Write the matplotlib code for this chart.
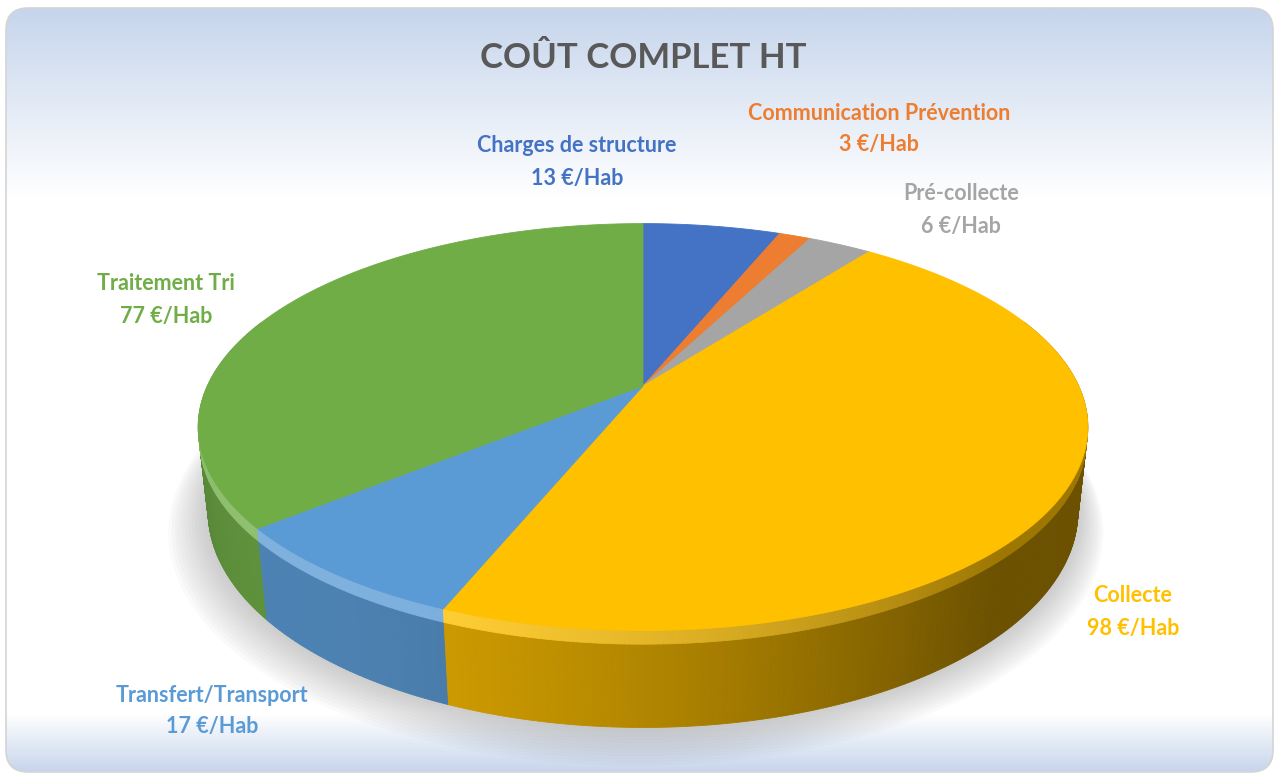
import numpy as np
import matplotlib
matplotlib.use("Agg")
import matplotlib.pyplot as plt
from matplotlib.patches import Polygon, FancyBboxPatch
from matplotlib.colors import to_rgb

# --------------------------------------------------------------------------- #
# Data
# --------------------------------------------------------------------------- #
categories = ["Charges de structure", "Communication Prévention", "Pré-collecte",
              "Collecte", "Transfert/Transport", "Traitement Tri"]
values = [13, 3, 6, 98, 17, 77]
unit = "€/Hab"
title = "COÛT COMPLET HT"

colors = ["#4472C4", "#ED7D31", "#A5A5A5", "#FFC000", "#5B9BD5", "#70AD47"]
# centre of the first label line (pixels), per category
label_xy = [(577, 146), (879, 113), (961, 194), (1133, 596), (212, 695), (166, 284)]

W, H = 1279, 773

# 3D pie view (pixels / perspective camera)
CX, CY = 643, 386
F, D = 1930.0, 4.43
SIN_E, COS_E = 0.448, 0.894
THICK = 0.218
BEVEL = 0.03


def project(phi, yw, r=1.0):
    """phi: angle clockwise from the far side (rad); yw: height (0 = top face)."""
    X = r * np.sin(phi)
    Z = r * np.cos(phi)
    syc = Z * SIN_E + yw * COS_E
    depth = D + Z * COS_E - yw * SIN_E
    return CX + F * X / depth, CY - F * syc / depth


def light(phi):
    return np.clip(np.cos(phi - np.radians(225)), 0, 1)


def shade(phi):
    return 0.42 + 0.42 * light(phi) ** 1.2


fig = plt.figure(figsize=(W / 100, H / 100), dpi=100)
ax = fig.add_axes([0, 0, 1, 1])
ax.set_xlim(0, W)
ax.set_ylim(H, 0)
ax.axis("off")

# --- panel background (rounded, vertical gradient) ---
panel = FancyBboxPatch((6, 8), W - 12, H - 9, boxstyle="round,pad=0,rounding_size=22",
                       facecolor="none", edgecolor="#d4d4d4", linewidth=1.2, zorder=1)
ax.add_patch(panel)
top_c = np.array(to_rgb("#c6d5ec"))
white = np.ones(3)
yy = np.linspace(0, H, 400)
t = np.clip((yy - 8) / 190.0, 0, 1)
b = np.clip((yy - 715) / 58.0, 0, 1)
grad = top_c + (white - top_c) * t[:, None]
grad = grad + (top_c - grad) * b[:, None]
im = ax.imshow(grad[:, None, :], extent=(0, W, H, 0), aspect="auto", zorder=0)
im.set_clip_path(panel)

# --- soft shadow under the pie ---
phis = np.linspace(0, 2 * np.pi, 361)
for k in range(12, 0, -1):
    sx, sy = project(phis, -THICK, r=1.0 + 0.006 * k)
    ax.add_patch(Polygon(np.c_[sx - 0.6 * k, sy + 1.2 * k], closed=True,
                         facecolor="#808080", edgecolor="none", alpha=0.035, zorder=2))

# --- slice angles ---
total = float(sum(values))
bounds = np.r_[0, np.cumsum(values)] / total * 2 * np.pi

# --- side walls (back to front), with a lighter bevel band on top ---
segs = []
step = np.radians(0.5)
for i, c in enumerate(colors):
    a0, a1 = bounds[i], bounds[i + 1]
    n = max(int(np.ceil((a1 - a0) / step)), 1)
    aa = np.linspace(a0, a1, n + 1)
    for p, q in zip(aa[:-1], aa[1:]):
        mid = 0.5 * (p + q)
        if np.cos(mid) > 0.35:
            continue
        segs.append((np.cos(mid), p, q, c))
segs.sort(key=lambda s: -s[0])
for _, p, q, c in segs:
    mid = 0.5 * (p + q)
    base = np.array(to_rgb(c))
    col = base * shade(mid)
    x0, y0 = project(p, -BEVEL)
    x1, y1 = project(q, -BEVEL)
    x2, y2 = project(q, -THICK)
    x3, y3 = project(p, -THICK)
    ax.add_patch(Polygon([(x0, y0), (x1, y1), (x2, y2), (x3, y3)], closed=True,
                         facecolor=col, edgecolor=col, linewidth=0.6, zorder=3))
    # bevel band
    k = light(mid)
    bcol = base * min(1.0, shade(mid) + 0.2) + (white - base) * 0.22 * k
    bcol = np.clip(bcol, 0, 1)
    x0, y0 = project(p, 0)
    x1, y1 = project(q, 0)
    x2, y2 = project(q, -BEVEL)
    x3, y3 = project(p, -BEVEL)
    ax.add_patch(Polygon([(x0, y0), (x1, y1), (x2, y2), (x3, y3)], closed=True,
                         facecolor=bcol, edgecolor=bcol, linewidth=0.6, zorder=3))

# --- top faces ---
for i, c in enumerate(colors):
    aa = np.linspace(bounds[i], bounds[i + 1], 200)
    px, py = project(aa, 0)
    ax.add_patch(Polygon(np.c_[np.r_[CX, px], np.r_[CY, py]], closed=True,
                         facecolor=c, edgecolor=c, linewidth=0.6, zorder=4))

# --- labels ---
for name, v, c, (lx, ly) in zip(categories, values, colors, label_xy):
    ax.text(lx, ly, name, color=c, fontsize=15.5, fontweight="bold",
            family="Lato", ha="center", va="center", zorder=6)
    ax.text(lx, ly + 32, f"{v} {unit}", color=c, fontsize=15.5, fontweight="bold",
            family="Lato", ha="center", va="center", zorder=6)

ax.text(643, 58, title, color="#595959", fontsize=25, fontweight="bold",
        family="Lato", ha="center", va="center", zorder=6)

fig.savefig("out.png", dpi=100)
